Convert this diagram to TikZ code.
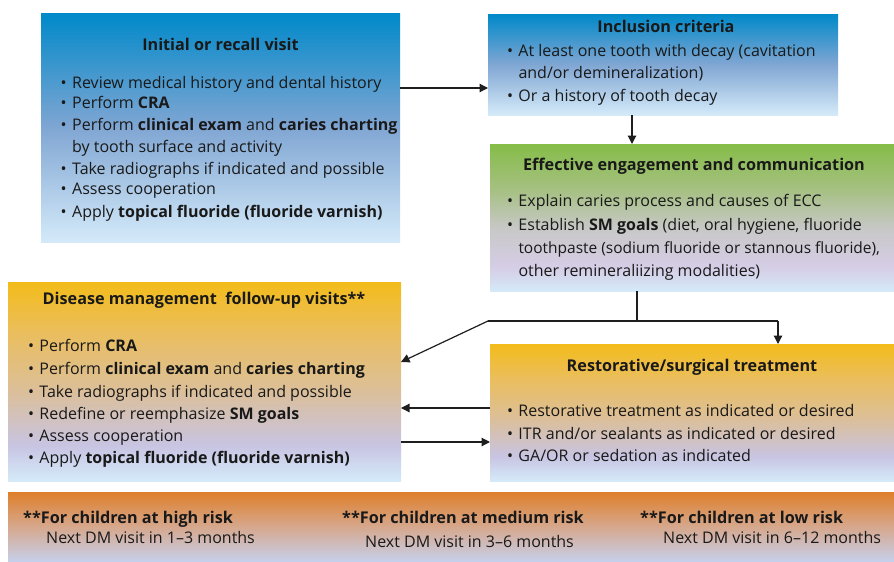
\documentclass[tikz,border=0pt]{standalone}
\usepackage{fontspec}
\setmainfont{Open Sans}
\usetikzlibrary{arrows.meta,calc}

% palette
\definecolor{ink}{RGB}{25,25,25}
\definecolor{lineink}{RGB}{30,30,30}
\definecolor{bluetop}{RGB}{0,137,201}
\definecolor{bluemid}{RGB}{128,166,211}
\definecolor{palebot}{RGB}{212,234,249}
\definecolor{greentop}{RGB}{133,189,72}
\definecolor{greenmid}{RGB}{165,192,128}
\definecolor{greygreen}{RGB}{200,200,200}
\definecolor{lavender}{RGB}{214,205,230}
\definecolor{ambertop}{RGB}{243,188,26}
\definecolor{amberA}{RGB}{234,190,95}
\definecolor{amberB}{RGB}{220,191,152}
\definecolor{lavblue}{RGB}{200,196,226}
\definecolor{rusttop}{RGB}{222,127,42}
\definecolor{rustmid}{RGB}{214,168,142}
\definecolor{rustbot}{RGB}{198,208,236}

% vertical gradients (25bp = bottom edge, 75bp = top edge)
\pgfdeclareverticalshading{blueshade}{100bp}{color(0bp)=(palebot); color(25bp)=(palebot);
  color(50bp)=(bluemid); color(75bp)=(bluetop); color(100bp)=(bluetop)}
\pgfdeclareverticalshading{greenshade}{100bp}{color(0bp)=(palebot); color(25bp)=(palebot);
  color(33bp)=(lavender); color(46bp)=(greygreen); color(60bp)=(greenmid); color(75bp)=(greentop); color(100bp)=(greentop)}
\pgfdeclareverticalshading{ambershade}{100bp}{color(0bp)=(palebot); color(25bp)=(palebot);
  color(34bp)=(lavblue); color(48bp)=(amberB); color(62bp)=(amberA); color(75bp)=(ambertop); color(100bp)=(ambertop)}
\pgfdeclareverticalshading{rustshade}{100bp}{color(0bp)=(rustbot); color(25bp)=(rustbot);
  color(50bp)=(rustmid); color(75bp)=(rusttop); color(100bp)=(rusttop)}

% bullet followed by the item text
\newcommand\bul{\makebox[11.5pt][l]{\textbullet}}

\begin{document}
\begin{tikzpicture}[x=1pt,y=-1pt,
  panel/.style={anchor=north west, inner sep=0pt, outer sep=0pt, draw=none},
  heading/.style={anchor=base, inner sep=0pt, text=ink, font=\bfseries\fontsize{16.2}{19}\selectfont},
  ln/.style={anchor=base west, inner sep=0pt, text=ink, font=\fontsize{16}{19}\selectfont},
  arr/.style={draw=lineink, line width=1.2pt, -{Triangle[length=8.5pt,width=8.5pt]}},
  plain/.style={draw=lineink, line width=1.2pt},
  noteH/.style={anchor=base west, inner sep=0pt, text=ink, font=\bfseries\fontsize{16.2}{19}\selectfont},
  note/.style={anchor=base west, inner sep=0pt, text=ink, font=\fontsize{16}{19}\selectfont},
]
\useasboundingbox (0,0) rectangle (894,562);

% panels
\node[panel, shading=blueshade, minimum width=359pt, minimum height=229pt] (init) at (41,13) {};
\node[panel, shading=blueshade, minimum width=350pt, minimum height=101pt] (incl) at (488,14) {};
\node[panel, shading=greenshade, minimum width=404pt, minimum height=147pt] (engage) at (490,144) {};
\node[panel, shading=ambershade, minimum width=393pt, minimum height=199pt] (dm) at (8,282) {};
\node[panel, shading=ambershade, minimum width=404pt, minimum height=137pt] (resto) at (490,344) {};
\node[panel, shading=rustshade, minimum width=886pt, minimum height=70pt] (risk) at (8,492) {};

% headings
\node[heading] (initT) at (220.5,50.7) {Initial or recall visit};
\node[heading] (inclT) at (666,32.7) {Inclusion criteria};
\node[heading] (engageT) at (694,170) {Effective engagement and communication};
\node[heading] (dmT) at (204,304.3) {Disease management\ \ follow-up visits**};
\node[heading] (restoT) at (692,371.7) {Restorative/surgical treatment};

% initial or recall visit
\node[ln] (init1) at (60.5,88.3) {\bul Review medical history and dental history};
\node[ln] (init2) at (60.5,108.3) {\bul Perform \textbf{CRA}};
\node[ln] (init3) at (60.5,130) {\bul Perform \textbf{clinical exam} and \textbf{caries charting}};
\node[ln] (init3b) at (72,152.7) {by tooth surface and activity};
\node[ln] (init4) at (60.5,174) {\bul Take radiographs if indicated and possible};
\node[ln] (init5) at (60.5,194.3) {\bul Assess cooperation};
\node[ln] (init6) at (60.5,217.3) {\bul Apply \textbf{topical fluoride (fluoride varnish)}};

% inclusion criteria
\node[ln] (incl1) at (506.8,56.7) {\bul At least one tooth with decay (cavitation};
\node[ln] (incl1b) at (518.3,78.7) {and/or demineralization)};
\node[ln] (incl2) at (506.8,101) {\bul Or a history of tooth decay};

% engagement
\node[ln] (eng1) at (506.8,206.7) {\bul Explain caries process and causes of ECC};
\node[ln] (eng2) at (506.8,230) {\bul Establish \textbf{SM goals} (diet, oral hygiene, fluoride};
\node[ln, font=\fontsize{15.5}{19}\selectfont] (eng2b) at (518.3,253.3) {toothpaste (sodium fluoride or stannous fluoride),};
\node[ln] (eng2c) at (518.3,276) {other remineraliizing modalities)};

% disease management follow-up
\node[ln] (dm1) at (27.8,351.7) {\bul Perform \textbf{CRA}};
\node[ln] (dm2) at (27.8,374.3) {\bul Perform \textbf{clinical exam} and \textbf{caries charting}};
\node[ln] (dm3) at (27.8,397) {\bul Take radiographs if indicated and possible};
\node[ln] (dm4) at (27.8,419) {\bul Redefine or reemphasize \textbf{SM goals}};
\node[ln] (dm5) at (27.8,441.7) {\bul Assess cooperation};
\node[ln] (dm6) at (27.8,463.7) {\bul Apply \textbf{topical fluoride (fluoride varnish)}};

% restorative/surgical
\node[ln] (res1) at (506.8,416.7) {\bul Restorative treatment as indicated or desired};
\node[ln] (res2) at (506.8,439) {\bul ITR and/or sealants as indicated or desired};
\node[ln] (res3) at (506.8,461) {\bul GA/OR or sedation as indicated};

% recall intervals
\node[noteH] (highH) at (23,523) {**For children at high risk};
\node[note] (highN) at (46,543) {Next DM visit in 1–3 months};
\node[noteH] (medH) at (342,523) {**For children at medium risk};
\node[note] (medN) at (365,547) {Next DM visit in 3–6 months};
\node[noteH] (lowH) at (640,523) {**For children at low risk};
\node[note] (lowN) at (663,543) {Next DM visit in 6–12 months};

% connectors
\draw[arr] (init.north east |- 0,88) -- (incl.west |- 0,88);
\draw[arr] (incl.south west -| 632,0) -- (engage.north west -| 632,0);
\coordinate (split) at (637,321);
\coordinate (forkL) at (488,321);
\coordinate (forkR) at (778,321);
\draw[plain] (engage.south west -| split) -- (split);
\draw[plain] (forkL) -- (forkR);
\draw[arr] (forkR) -- (resto.north west -| forkR);
\draw[arr] (forkL) -- ($(dm.north east)+(0,80)$);
\draw[arr] (resto.north west |- 0,408) -- (dm.north east |- 0,408);
\draw[arr] (dm.north east |- 0,442) -- (resto.north west |- 0,442);
\end{tikzpicture}
\end{document}
